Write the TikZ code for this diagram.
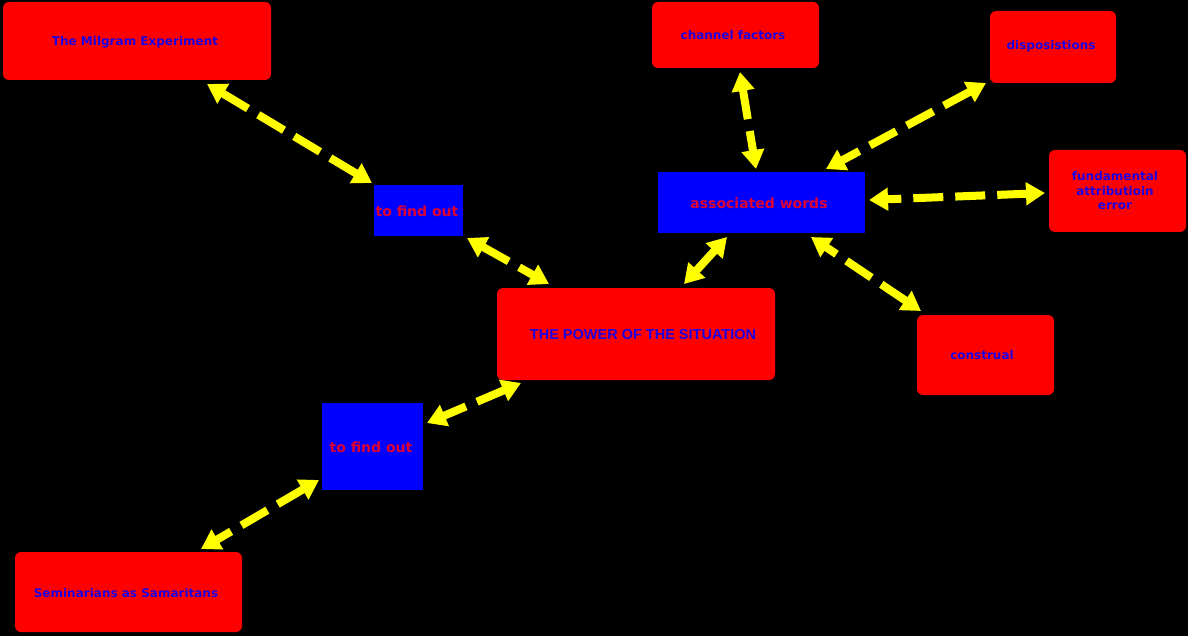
\documentclass[tikz,border=0pt]{standalone}
\usepackage{fontspec}
\setmainfont{DejaVu Sans}
\newfontfamily\heavy{Liberation Sans}
\usetikzlibrary{arrows.meta}
\definecolor{boxred}{RGB}{255,0,0}
\definecolor{boxblue}{RGB}{0,0,255}
\definecolor{txtblue}{RGB}{30,0,225}
\definecolor{txtred}{RGB}{225,0,50}
\definecolor{arrowyellow}{RGB}{255,255,0}
\tikzset{
  redbox/.style={fill=boxred, draw=none, rounded corners=6pt, inner sep=0pt},
  bluebox/.style={fill=boxblue, draw=none, inner sep=0pt},
  redtext/.style={text=txtblue, font=\bfseries\fontsize{12}{14.5}\selectfont, align=center, inner sep=0pt},
  bluetext/.style={text=txtred, font=\bfseries\fontsize{14}{16}\selectfont, inner sep=0pt},
  link/.style={draw=arrowyellow, line width=8pt, dash pattern=on 30pt off 12pt,
    {Triangle[length=19pt,width=22pt,fill=arrowyellow]}-{Triangle[length=19pt,width=22pt,fill=arrowyellow]}}
}
\begin{document}
\begin{tikzpicture}[x=1pt,y=-1pt]
\fill[black] (0,0) rectangle (1188,636);
\useasboundingbox (0,0) rectangle (1188,636);
% boxes
\node[redbox, minimum width=268pt, minimum height=78pt] (milgram) at (137,41) {};
\node[redtext] (milgramt) at (135,42) {The Milgram Experiment};
\node[redbox, minimum width=167pt, minimum height=66pt] (channel) at (735.5,35) {};
\node[redtext] (channelt) at (733,35) {channel factors};
\node[redbox, minimum width=126pt, minimum height=72pt] (dispo) at (1053,47) {};
\node[redtext] (dispot) at (1051,46) {disposistions};
\node[redbox, minimum width=137pt, minimum height=82pt] (fae) at (1117.5,191) {};
\node[redtext] (faet) at (1115,191) {fundamental\\attributioin\\error};
\node[bluebox, minimum width=207pt, minimum height=61pt] (assoc) at (761.5,202.5) {};
\node[bluetext] (assoct) at (759,203) {associated words};
\node[bluebox, minimum width=89pt, minimum height=51pt] (find1) at (418.5,210.5) {};
\node[bluetext] (find1t) at (417,211) {to find out};
\node[redbox, minimum width=278pt, minimum height=92pt] (power) at (636,334) {};
\node[text=txtblue, inner sep=0pt, font=\heavy\bfseries\fontsize{14.5}{16}\selectfont] (powert) at (643,335) {THE POWER OF THE SITUATION};
\node[redbox, minimum width=137pt, minimum height=80pt] (construal) at (985.5,355) {};
\node[redtext] (construalt) at (982,355) {construal};
\node[bluebox, minimum width=101pt, minimum height=87pt] (find2) at (372.5,446.5) {};
\node[bluetext] (find2t) at (371,447) {to find out};
\node[redbox, minimum width=227pt, minimum height=80pt] (semi) at (128.5,592) {};
\node[redtext] (semit) at (126,593) {Seminarians as Samaritans};
% connector end points
\coordinate (m1) at (207,84);   \coordinate (f1a) at (372,183);
\coordinate (f1b) at (467,238); \coordinate (p1) at (549,284);
\coordinate (a1) at (727,237);  \coordinate (p2) at (684,284);
\coordinate (c1) at (740,72);   \coordinate (a2) at (756,169);
\coordinate (d1) at (986,83);   \coordinate (a3) at (826,169);
\coordinate (e1) at (1045,193); \coordinate (a4) at (869,200);
\coordinate (k1) at (921,311);  \coordinate (a5) at (811,237);
\coordinate (p3) at (521,383);  \coordinate (f2a) at (427,423);
\coordinate (f2b) at (319,480); \coordinate (s1) at (201,549);
% connectors
\draw[link] (m1) -- (f1a);
\draw[link] (f1b) -- (p1);
\draw[link] (a1) -- (p2);
\draw[link] (c1) -- (a2);
\draw[link] (d1) -- (a3);
\draw[link] (e1) -- (a4);
\draw[link] (k1) -- (a5);
\draw[link] (p3) -- (f2a);
\draw[link] (f2b) -- (s1);
\end{tikzpicture}
\end{document}
